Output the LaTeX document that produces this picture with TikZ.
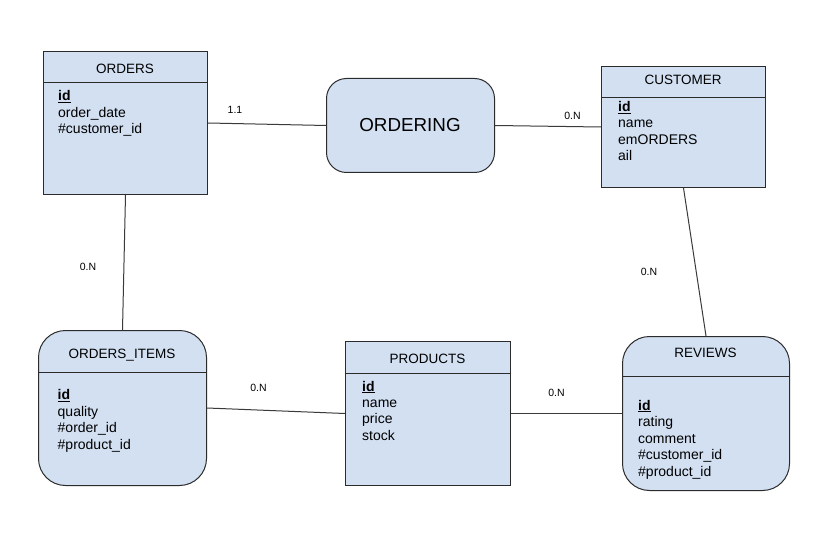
\documentclass[tikz,border=0pt]{standalone}
\usepackage{fontspec}
\setmainfont{Liberation Sans}
\definecolor{boxc}{HTML}{D2E0F2}
\definecolor{linec}{HTML}{2B2B2B}
\definecolor{connc}{HTML}{3A3A3A}
\begin{document}
\begin{tikzpicture}[x=1pt,y=-1pt,
  entity/.style={draw=linec, fill=boxc, line width=1pt, inner sep=0pt, anchor=north west},
  hdr/.style={draw=linec, line width=1pt},
  conn/.style={draw=connc, line width=1pt},
  ttl/.style={anchor=base, inner sep=0pt, font=\fontsize{13.5}{16}\selectfont},
  attr/.style={anchor=base west, inner sep=0pt, font=\fontsize{14}{16}\selectfont},
  card/.style={anchor=base, inner sep=0pt, font=\fontsize{10.5}{12}\selectfont}]
\useasboundingbox[fill=white] (0,0) rectangle (840,553);

% ORDERS
\node[entity, minimum width=164pt, minimum height=143pt] (orders) at (43,51) {};
\draw[hdr] (orders.west |- 0,83) -- (orders.east |- 0,83);
\node[ttl] (ordersT) at (125,73.5) {ORDERS};
\foreach \t [count=\i from 0] in {{\underline{\textbf{id}}},order\_date,\#customer\_id}
  \node[attr] (oa\i) at (58,101+16.3*\i) {\t};

% ORDERING
\node[entity, rounded corners=20pt, minimum width=168pt, minimum height=94pt] (ordering) at (326,78) {};
\node[anchor=base, inner sep=0pt, font=\fontsize{18.8}{20}\selectfont] (orderingT) at (410,131.5) {ORDERING};

% CUSTOMER
\node[entity, minimum width=164pt, minimum height=121pt] (customer) at (601,66) {};
\draw[hdr] (customer.west |- 0,98) -- (customer.east |- 0,98);
\node[ttl] (customerT) at (683,85) {CUSTOMER};
\foreach \t [count=\i from 0] in {{\underline{\textbf{id}}},name,emORDERS,ail}
  \node[attr] (ca\i) at (618,111.5+16.5*\i) {\t};

% ORDERS_ITEMS
\node[entity, rounded corners=27pt, minimum width=168pt, minimum height=155pt] (items) at (38,330) {};
\draw[hdr] (items.west |- 0,372) -- (items.east |- 0,372);
\node[ttl] (itemsT) at (122,358.5) {ORDERS\_ITEMS};
\foreach \t [count=\i from 0] in {{\underline{\textbf{id}}},quality,\#order\_id,\#product\_id}
  \node[attr] (ia\i) at (57.5,399.5+16.6*\i) {\t};

% PRODUCTS
\node[entity, minimum width=165pt, minimum height=144pt] (products) at (345,341) {};
\draw[hdr] (products.west |- 0,373) -- (products.east |- 0,373);
\node[ttl] (productsT) at (427.5,363.5) {PRODUCTS};
\foreach \t [count=\i from 0] in {{\underline{\textbf{id}}},name,price,stock}
  \node[attr] (pa\i) at (362,391+16.4*\i) {\t};

% REVIEWS
\node[entity, rounded corners=27pt, minimum width=167pt, minimum height=154pt] (reviews) at (622,336) {};
\draw[hdr] (reviews.west |- 0,376) -- (reviews.east |- 0,376);
\node[ttl] (reviewsT) at (705.5,357.5) {REVIEWS};
\foreach \t [count=\i from 0] in {{\underline{\textbf{id}}},rating,comment,\#customer\_id,\#product\_id}
  \node[attr] (ra\i) at (638,410+16.6*\i) {\t};

% connectors
\draw[conn] (orders.east) -- (ordering.west);
\draw[conn] (ordering.east) -- (customer.west);
\draw[conn] (customer.south) -- (reviews.north);
\draw[conn] (orders.south) -- (items.north);
\draw[conn] (items.east) -- (products.west);
\draw[conn] (products.east) -- (reviews.west);

% cardinalities
\node[card] (c1) at (235,113.3) {1.1};
\node[card] (c2) at (572.5,120) {0.N};
\node[card] (c3) at (649,276) {0.N};
\node[card] (c4) at (88,270) {0.N};
\node[card] (c5) at (258.5,391) {0.N};
\node[card] (c6) at (556.5,396) {0.N};
\end{tikzpicture}
\end{document}
